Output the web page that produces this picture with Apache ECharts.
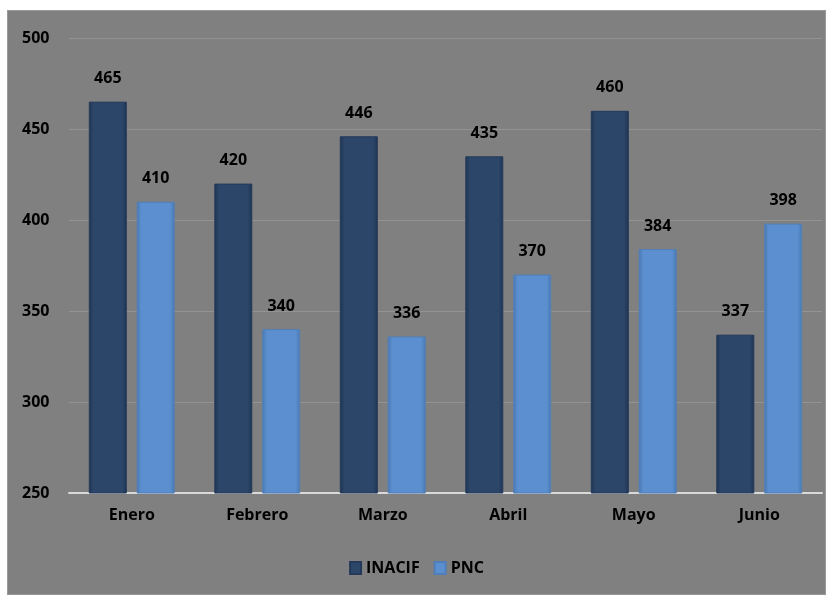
<!DOCTYPE html>
<html>
<head>
<meta charset="utf-8">
<script src="https://cdn.jsdelivr.net/npm/echarts@6/dist/echarts.min.js"></script>
<style>
  html, body { margin: 0; padding: 0; background: #fff; }
  #chart { position: absolute; left: 7px; top: 10px; width: 819px; height: 585px; background: #808080; border: 1px solid #999; box-sizing: border-box; }
</style>
</head>
<body>
<div id="chart"></div>
<script>
// datos
const meses = ['Enero', 'Febrero', 'Marzo', 'Abril', 'Mayo', 'Junio']
const inacif = [465, 420, 446, 435, 460, 337]
const pnc = [410, 340, 336, 370, 384, 398]

const fuente = '"Open Sans", "Liberation Sans", sans-serif'

function degradado(borde, centro) {
  return new echarts.graphic.LinearGradient(0, 0, 1, 0, [
    { offset: 0, color: borde },
    { offset: 0.12, color: centro },
    { offset: 0.88, color: centro },
    { offset: 1, color: borde }
  ])
}

let chart = echarts.init(document.getElementById('chart'))
chart.setOption({
  animation: false,
  grid: { left: 61, right: 3, top: 27, bottom: 101 },
  legend: {
    bottom: 13,
    left: 'center',
    itemWidth: 11,
    itemHeight: 12,
    itemGap: 14,
    icon: 'rect',
    textStyle: { color: '#000', fontWeight: 'bold', fontSize: 16, fontFamily: fuente },
    data: ['INACIF', 'PNC']
  },
  xAxis: {
    type: 'category',
    data: meses,
    axisTick: { show: false },
    axisLine: { lineStyle: { color: '#d9d9d9', width: 2 } },
    axisLabel: { color: '#000', fontWeight: 'bold', fontSize: 16, fontFamily: fuente, margin: 14 }
  },
  yAxis: {
    type: 'value',
    min: 250,
    max: 500,
    interval: 50,
    axisLine: { show: false },
    axisTick: { show: false },
    splitLine: { lineStyle: { color: '#939393', width: 1 } },
    axisLabel: { color: '#000', fontWeight: 'bold', fontSize: 16, fontFamily: fuente, align: 'left', margin: 47 }
  },
  series: [
    {
      name: 'INACIF',
      type: 'bar',
      data: inacif,
      barWidth: 38,
      barGap: '26%',
      itemStyle: { color: degradado('#1e3350', '#2c4669'), borderColor: '#24395a', borderWidth: 1 },
      label: { show: true, position: 'top', distance: 15, color: '#000', fontWeight: 'bold', fontSize: 16, fontFamily: fuente }
    },
    {
      name: 'PNC',
      type: 'bar',
      data: pnc,
      barWidth: 38,
      itemStyle: { color: degradado('#4a78b0', '#5b8fd0'), borderColor: '#4f7fb9', borderWidth: 1 },
      label: { show: true, position: 'top', distance: 15, color: '#000', fontWeight: 'bold', fontSize: 16, fontFamily: fuente }
    }
  ]
})
</script>
</body>
</html>
